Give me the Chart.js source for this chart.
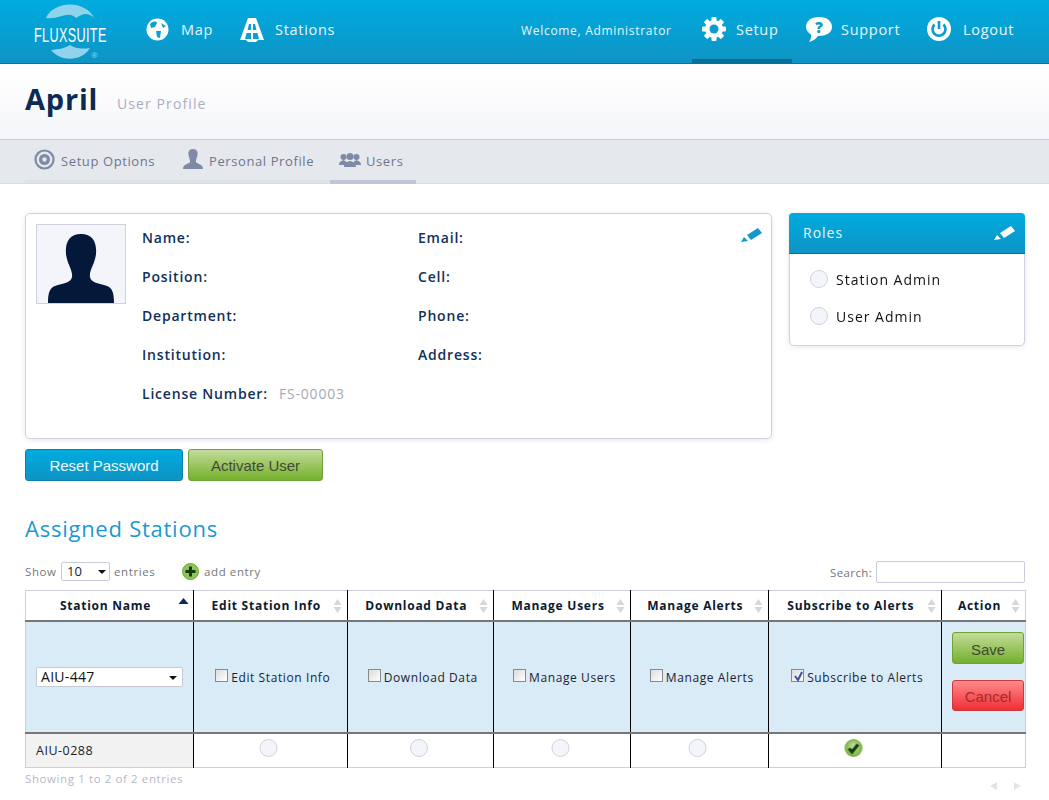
<!DOCTYPE html>
<html lang="en">
<head>
<meta charset="UTF-8">
<title>FluxSuite User Profile</title>
<script src="https://cdn.jsdelivr.net/npm/chart.js"></script>
<style>
  * { box-sizing: border-box; }
  html, body { margin: 0; padding: 0; }
  body { width: 1049px; height: 800px; overflow: hidden; position: relative; background: #fff;
         font-family: "Open Sans", "Noto Sans", sans-serif; letter-spacing: .7px; }
  .abs { position: absolute; white-space: nowrap; line-height: 1; }
  .top { position: absolute; left: 0; top: 0; width: 1049px; height: 64px;
         background: linear-gradient(#00abe0, #0e94c4); border-bottom: 1px solid #05739c; }
  .sub { position: absolute; left: 0; top: 64px; width: 1049px; height: 76px;
         background: linear-gradient(#fff, #f5f6f9); border-bottom: 1px solid #ccced6; }
  .tabs { position: absolute; left: 0; top: 140px; width: 1049px; height: 44px;
          background: #e5e8ed; border-bottom: 1px solid #dcdde0; }
  .nav { color: #e6f6fc; font-size: 14.5px; top: 23px; }
  .tab { color: #6f7690; font-size: 13px; top: 155px; letter-spacing: .6px; }
  .card { position: absolute; background: #fff; border: 1px solid #cfd2de; border-radius: 5px;
          box-shadow: 0 1px 5px rgba(60,70,110,.13); }
  .lbl { color: #12305a; font-size: 14px; font-weight: 600; letter-spacing: .8px; }
  .btn { position: absolute; font-family: "Liberation Sans", Arial, sans-serif; letter-spacing: 0;
         font-size: 15px; text-align: center; border-radius: 3px; }
  .blue { background: linear-gradient(#00abe0, #0e94c4); border: 1px solid #0a80ab; color: #eef9fd; }
  .green { background: linear-gradient(#c3dc9a, #74b02c); border: 1px solid #6ea338; color: #3f4b34; }
  .red { background: linear-gradient(#ff8a8a, #f02e35); border: 1px solid #c9383c; color: #a62a2e; }
  .small { font-size: 11.5px; color: #777; letter-spacing: .6px; }
  .box { position: absolute; background: #fff; border: 1px solid #c9ccd6; border-radius: 2px; }
  table { position: absolute; left: 25px; top: 590px; width: 1000px; table-layout: fixed;
          border-collapse: collapse; border: 1px solid #cdd0dc; }
  th, td { padding: 0; border-left: 1.5px solid #000; position: relative; text-align: center; }
  th:first-child, td:first-child { border-left: 0; }
  th { height: 30px; font-size: 12px; color: #0b1a30; font-weight: 700; border-bottom: 2px solid #777; padding-right: 8px; letter-spacing: .75px; }
  .edit td { height: 112px; background: #d9ebf7; border-bottom: 2px solid #777; font-size: 12px; color: #1b2430; letter-spacing: .6px; padding: 2px 0 0 5px; }
  .view td { height: 35px; }
  .view td:first-child { background: #f2f2f2; text-align: left; padding-left: 10px; font-size: 12.5px; color: #222; letter-spacing: .5px; }
  .view canvas { position: absolute; left: 0; top: 0; }
  .sort { position: absolute; right: 5px; top: 7px; width: 9px; height: 16px; }
  .cb { display: inline-block; width: 13px; height: 13px; border: 1px solid #8a8a8a; margin-right: 3px;
        vertical-align: 0; background: linear-gradient(135deg, #dcdcdc, #fff); position: relative; }
  .sel { position: absolute; left: 10px; top: 45px; width: 147px; height: 20px; background: #fff; border: 1px solid #c6cad4;
         border-radius: 2px; text-align: left; padding: 0 0 0 4px; font-size: 14px; line-height: 17px; color: #111; letter-spacing: .3px; }
  .tri { position: absolute; width: 0; height: 0; border-left: 4px solid transparent; border-right: 4px solid transparent; border-top: 4px solid #111; }
  svg { position: absolute; }
</style>
</head>
<body>
<div class="top"></div>
<div class="sub"></div>
<div class="tabs"></div>

<!-- logo -->
<svg style="left:30px;top:2px" width="80" height="60" viewBox="0 0 80 60">
  <path d="M16 16 C24 -2 56 -2 64 16 C56 9 52 13 46 16 C38 8 30 18 16 16Z" fill="#8fd3ec"/>
  <path d="M21 48 C28 47 34 47 40 43 C46 47 52 47 60 46 C52 60 30 60 21 48Z" fill="#8fd3ec"/>
</svg>
<div class="abs" style="left:34px;top:24px;color:#fff;font:20px 'Liberation Sans';letter-spacing:.6px;transform:scaleX(.63);transform-origin:left top">FLUXSUITE</div>
<div class="abs" style="left:91px;top:51px;color:#8fd3ec;font-size:8px;letter-spacing:0">®</div>

<!-- top navigation icons -->
<svg style="left:146px;top:18px" width="23" height="23" viewBox="0 0 23 23">
  <circle cx="11.5" cy="11.5" r="11" fill="#fff"/>
  <path d="M4 6 C7 3 10 3 11 5 L9 9 L5 10 Z M10 13 L15 13 L14 20 L11 19 Z M15 5 L20 8 L17 10 Z" fill="#0ba0d2"/>
</svg>
<svg style="left:240px;top:18px" width="24" height="24" viewBox="0 0 24 24">
  <path d="M8 0 H16 L24 22 L18 22 L16 24 H8 L6 22 L0 22 Z" fill="#fff"/>
  <path d="M9 6 H11 V12 H7.5 Z M13 6 H15 L16.5 12 H13 Z M6.5 15 H11 V21 H5 Z M13 15 H17.5 L19 21 H13 Z" fill="#0ba0d2"/>
</svg>
<svg style="left:702px;top:17px" width="24" height="24" viewBox="0 0 24 24">
  <g fill="#fff"><circle cx="12" cy="12" r="9"/>
  <rect x="9.5" y="0" width="5" height="24" rx="1"/>
  <rect x="9.5" y="0" width="5" height="24" rx="1" transform="rotate(45 12 12)"/>
  <rect x="9.5" y="0" width="5" height="24" rx="1" transform="rotate(90 12 12)"/>
  <rect x="9.5" y="0" width="5" height="24" rx="1" transform="rotate(135 12 12)"/></g>
  <circle cx="12" cy="12" r="4.5" fill="#0a9ccd"/>
</svg>
<svg style="left:806px;top:17px" width="26" height="26" viewBox="0 0 26 26">
  <path d="M13 0 C21 0 26 4 26 10 C26 16 20 19 12 19 C10 22 7 24 3 25 C5 22 5.500 20 5 17.500 C2 16 0 13 0 10 C0 4 5 0 13 0Z" fill="#fff"/>
  <text x="13" y="15.500" text-anchor="middle" font-size="15" font-weight="800" fill="#0a9ccd" font-family="Open Sans" letter-spacing="0">?</text>
</svg>
<svg style="left:927px;top:17px" width="24" height="24" viewBox="0 0 24 24">
  <circle cx="12" cy="12" r="12" fill="#fff"/>
  <path d="M7.500 7.500 A6.500 6.500 0 1 0 16.500 7.500" fill="none" stroke="#0a9ccd" stroke-width="2.600"/>
  <rect x="10.700" y="4" width="2.600" height="8" fill="#0a9ccd"/>
</svg>
<div class="abs" style="left:692px;top:59px;width:100px;height:4px;background:#03709a"></div>

<div class="abs nav" style="left:181px" id="navMap"></div>
<div class="abs nav" style="left:275px" id="navStations"></div>
<div class="abs nav" style="left:521px;top:25px;font-size:12px" id="navWelcome"></div>
<div class="abs nav" style="left:736px" id="navSetup"></div>
<div class="abs nav" style="left:841px" id="navSupport"></div>
<div class="abs nav" style="left:963px" id="navLogout"></div>

<!-- title -->
<div class="abs" style="left:25px;top:84px;font-size:29px;font-weight:700;color:#0c2a52;letter-spacing:.8px">April</div>
<div class="abs" style="left:117px;top:97px;font-size:14px;color:#a9aebf;letter-spacing:1.1px">User Profile</div>

<!-- tabs -->
<div class="abs" style="left:25px;top:180px;width:305px;height:3px;background:#e1e2e5"></div>
<div class="abs" style="left:330px;top:180px;width:86px;height:4px;background:#c0c6d6"></div>
<svg style="left:34px;top:149px" width="21" height="21" viewBox="0 0 21 21">
  <circle cx="10.500" cy="10.500" r="9" fill="none" stroke="#8089a6" stroke-width="2.200"/>
  <circle cx="10.500" cy="10.500" r="5.500" fill="#8089a6"/><circle cx="10.500" cy="10.500" r="2.200" fill="#e5e8ed"/>
</svg>
<svg style="left:183px;top:149px" width="20" height="21" viewBox="0 0 20 21">
  <path d="M10 0 C14 0 15 3 14.500 6 C14 9 12.500 11 13 13 C14 15 20 15 20 20 H0 C0 15 6 15 7 13 C7.500 11 6 9 5.500 6 C5 3 6 0 10 0Z" fill="#8089a6"/>
</svg>
<svg style="left:339px;top:153px" width="22" height="14" viewBox="0 0 22 14">
  <g fill="#8089a6"><circle cx="4.500" cy="4" r="3"/><circle cx="17.500" cy="4" r="3"/><path d="M0 12 C0 8 3 8 4.500 7 C6 8 8 8 8 12Z M14 12 C14 8 16 8 17.500 7 C19 8 22 8 22 12Z"/>
  <circle cx="11" cy="3.500" r="3.500"/><path d="M5 14 C5 9 8 9 11 8 C14 9 17 9 17 14Z"/></g>
</svg>
<div class="abs tab" style="left:61px" id="tab0"></div>
<div class="abs tab" style="left:209px" id="tab1"></div>
<div class="abs tab" style="left:366px" id="tab2"></div>

<!-- profile card -->
<div class="card" style="left:25px;top:213px;width:747px;height:226px"></div>
<div class="abs" style="left:36px;top:224px;width:90px;height:80px;background:#f4f5fa;border:1px solid #cfd2de"></div>
<svg style="left:47px;top:234px" width="68" height="69" viewBox="0 0 68 69">
  <path d="M34 0 C46 0 50 9 49 20 C48 30 42 36 43 43 C44 49 52 49 60 52 C65 54 67 58 67 69 H1 C1 58 3 54 8 52 C16 49 24 49 25 43 C26 36 20 30 19 20 C18 9 22 0 34 0Z" fill="#04183a"/>
</svg>
<svg style="left:741px;top:227px" width="21" height="16" viewBox="0 0 21 16">
  <path d="M6 8 L17 1 L21 6 L10 13 Z M0 15 L3 10 L7 14 Z" fill="#1697cb"/>
</svg>
<div id="fields"></div>
<div class="abs" style="left:279px;top:387px;font-size:14px;color:#a5a9b5;letter-spacing:.8px">FS-00003</div>

<!-- roles card -->
<div class="card" style="left:789px;top:213px;width:236px;height:133px"></div>
<div class="abs" style="left:789px;top:213px;width:236px;height:41px;background:linear-gradient(#00abe0,#0e94c4);border-bottom:1px solid #05739c;border-radius:4px 4px 0 0"></div>
<div class="abs" style="left:803px;top:226px;font-size:14px;color:#e6f6fc;letter-spacing:1px">Roles</div>
<svg style="left:994px;top:225px" width="21" height="16" viewBox="0 0 21 16">
  <path d="M6 8 L17 1 L21 6 L10 13 Z M0 15 L3 10 L7 14 Z" fill="#fff"/>
</svg>
<div id="roles"></div>

<div class="btn blue" style="left:25px;top:449px;width:158px;height:32px;line-height:32px" id="btnReset"></div>
<div class="btn green" style="left:188px;top:449px;width:135px;height:32px;line-height:32px" id="btnActivate"></div>

<div class="abs" style="left:25px;top:517px;font-size:22px;color:#1b9ad0;letter-spacing:.75px">Assigned Stations</div>

<!-- table controls -->
<div class="abs small" style="left:25px;top:566px">Show</div>
<div class="box" style="left:61px;top:562px;width:49px;height:19px"></div>
<div class="abs" style="left:67px;top:565px;font-size:13px;color:#222;letter-spacing:0">10</div>
<div class="tri" style="left:98px;top:570px"></div>
<div class="abs small" style="left:114px;top:566px">entries</div>
<svg style="left:182px;top:563px" width="17" height="17" viewBox="0 0 17 17">
  <circle cx="8.500" cy="8.500" r="8" fill="#8fc45c" stroke="#6ea338"/>
  <path d="M7 3.500 H10 V7 H13.500 V10 H10 V13.500 H7 V10 H3.500 V7 H7Z" fill="#173d0e"/>
</svg>
<div class="abs small" style="left:204px;top:566px">add entry</div>
<div class="abs small" style="left:830px;top:567px;letter-spacing:.4px">Search:</div>
<div class="box" style="left:876px;top:561px;width:149px;height:22px"></div>

<table>
  <colgroup><col style="width:168px"><col style="width:153.500px"><col style="width:146.500px"><col style="width:137px"><col style="width:137.500px"><col style="width:173.500px"><col style="width:84px"></colgroup>
  <thead><tr id="headRow"></tr></thead>
  <tbody>
    <tr class="edit" id="editRow"></tr>
    <tr class="view" id="viewRow"></tr>
  </tbody>
</table>

<div class="btn green" style="left:952px;top:632px;width:72px;height:32px;line-height:33px" id="btnSave"></div>
<div class="btn red" style="left:952px;top:680px;width:72px;height:31px;line-height:32px" id="btnCancel"></div>

<div class="abs small" style="left:25px;top:773px;color:#b4b8c6">Showing 1 to 2 of 2 entries</div>
<svg style="left:988px;top:781px" width="34" height="10" viewBox="0 0 34 10">
  <path d="M2 5 L9 1 V9Z M26 1 L33 5 L26 9Z" fill="#e3e4e8"/>
</svg>

<script>
const navLabels = ["Map", "Stations", "Welcome, Administrator", "Setup", "Support", "Logout"];
const navIds = ["navMap", "navStations", "navWelcome", "navSetup", "navSupport", "navLogout"];
const tabLabels = ["Setup Options", "Personal Profile", "Users"];
const fieldsLeft = ["Name:", "Position:", "Department:", "Institution:", "License Number:"];
const fieldsRight = ["Email:", "Cell:", "Phone:", "Address:"];
const roleLabels = ["Station Admin", "User Admin"];
const roleValues = [0, 0];
const tableColumns = ["Station Name", "Edit Station Info", "Download Data", "Manage Users", "Manage Alerts", "Subscribe to Alerts", "Action"];
const editStation = "AIU-447";
const editChecks = [0, 0, 0, 0, 1];
const viewStation = "AIU-0288";
const viewPermissions = [0, 0, 0, 0, 1];

navIds.forEach((id, i) => document.getElementById(id).textContent = navLabels[i]);
tabLabels.forEach((t, i) => document.getElementById("tab" + i).textContent = t);
document.getElementById("btnReset").textContent = "Reset Password";
document.getElementById("btnActivate").textContent = "Activate User";
document.getElementById("btnSave").textContent = "Save";
document.getElementById("btnCancel").textContent = "Cancel";

// profile fields
let html = "";
fieldsLeft.forEach((f, i) => {
  html += `<div class="abs lbl" style="left:142px;top:${231 + i * 39}px">${f}</div>`;
});
fieldsRight.forEach((f, i) => {
  html += `<div class="abs lbl" style="left:418px;top:${231 + i * 39}px">${f}</div>`;
});
document.getElementById("fields").innerHTML = html;

// table
function sortIcon(active) {
  if (active) return `<svg class="sort" style="top:6px;width:11px;right:4px" viewBox="0 0 11 16"><path d="M0.500 7 L5.500 1 L10.500 7Z" fill="#0c2a52"/></svg>`;
  return `<svg class="sort" viewBox="0 0 9 16"><path d="M0.500 7 L4.500 1 L8.500 7Z M0.500 9 H8.500 L4.500 15Z" fill="#d5d7dc"/></svg>`;
}
document.getElementById("headRow").innerHTML = tableColumns.map((c, i) =>
  `<th>${c}${sortIcon(i === 0)}</th>`).join("");

let editHtml = `<td><div class="sel">${editStation}<span class="tri" style="right:5px;top:8px"></span></div></td>`;
editChecks.forEach((v, i) => {
  const tick = v ? `<svg width="11" height="11" viewBox="0 0 11 11" style="left:1px;top:1px"><path d="M2 5 L5 9 L9 1" fill="none" stroke="#3f4fa0" stroke-width="2"/></svg>` : "";
  editHtml += `<td><span class="cb">${tick}</span>${tableColumns[i + 1]}</td>`;
});
editHtml += "<td></td>";
document.getElementById("editRow").innerHTML = editHtml;

let viewHtml = `<td>${viewStation}</td>`;
viewPermissions.forEach((v, i) => { viewHtml += `<td><canvas id="mark${i}"></canvas></td>`; });
viewHtml += "<td></td>";
document.getElementById("viewRow").innerHTML = viewHtml;

// roles
let rolesHtml = "";
roleLabels.forEach((r, i) => {
  rolesHtml += `<canvas id="role${i}" style="position:absolute;left:799px;top:${259 + i * 37}px"></canvas>`;
  rolesHtml += `<div class="abs" style="left:836px;top:${273 + i * 37}px;font-size:14px;color:#111;letter-spacing:1px">${r}</div>`;
});
document.getElementById("roles").innerHTML = rolesHtml;

// green tick used as the point style of a set value
function tickStyle() {
  const c = document.createElement("canvas");
  c.width = 20; c.height = 20;
  const g = c.getContext("2d");
  const grad = g.createRadialGradient(10, 8, 2, 10, 10, 10);
  grad.addColorStop(0, "#b6d98c");
  grad.addColorStop(1, "#6fa83c");
  g.fillStyle = grad;
  g.beginPath(); g.arc(10, 10, 9, 0, Math.PI * 2); g.fill();
  g.strokeStyle = "#173d0e"; g.lineWidth = 3.2;
  g.beginPath(); g.moveTo(5.500, 10.500); g.lineTo(8.500, 14); g.lineTo(14.500, 6.500); g.stroke();
  return c;
}

// one small chart per cell, so the point follows the cell it belongs to
function drawMark(canvas, value) {
  new Chart(canvas, {
    type: "scatter",
    data: { datasets: [{
      data: [{ x: 0, y: 0 }],
      clip: false,
      pointStyle: value ? tickStyle() : "circle",
      pointRadius: 8.500,
      pointBackgroundColor: "#f4f5fa",
      pointBorderColor: "#cfd2de",
      pointBorderWidth: 1
    }] },
    options: {
      responsive: false,
      maintainAspectRatio: false,
      animation: false,
      events: [],
      layout: { padding: 0, autoPadding: false },
      plugins: { legend: { display: false }, tooltip: { enabled: false } },
      scales: {
        x: { display: false, min: -1, max: 1 },
        y: { display: false, min: -1, max: 1 }
      }
    }
  });
}

viewPermissions.forEach((v, i) => {
  const c = document.getElementById("mark" + i);
  const cell = c.parentElement.getBoundingClientRect();
  c.width = cell.width - 4;
  c.height = 28;
  drawMark(c, v);
});
roleValues.forEach((v, i) => {
  const c = document.getElementById("role" + i);
  c.width = 40;
  c.height = 40;
  drawMark(c, v);
});
</script>
</body>
</html>
